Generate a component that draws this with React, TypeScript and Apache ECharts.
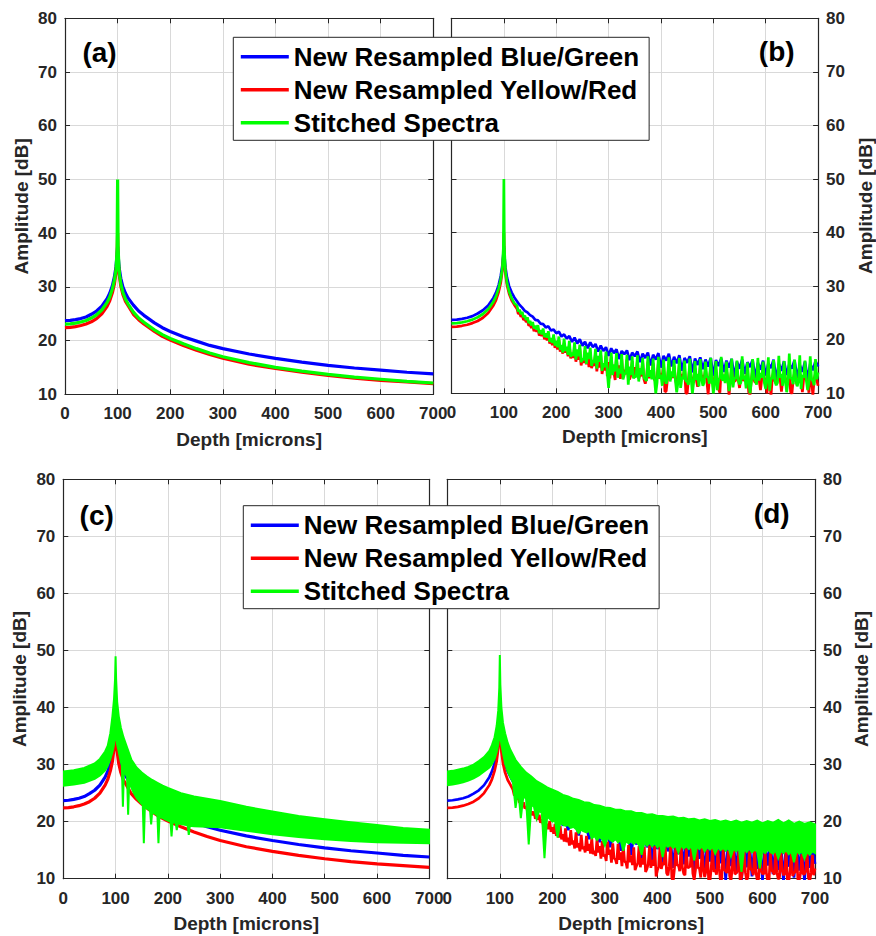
import React, { useEffect, useRef } from "react";
import * as echarts from "echarts";

const SERIES_NAMES = ["New Resampled Blue/Green", "New Resampled Yellow/Red", "Stitched Spectra"];
const SERIES_COLORS = ["#0000ff", "#ff0000", "#00ff00"];
const PANEL_LABELS = ["(a)", "(b)", "(c)", "(d)"];
const X_LABEL = "Depth [microns]";
const Y_LABEL = "Amplitude [dB]";
const X_MIN = 0;
const X_MAX = 700;
const X_STEP = 100;
const Y_MIN = 10;
const Y_MAX = 80;
const Y_STEP = 10;

// Smooth spectra around the peak (depth in microns, amplitude in dB)
const nearDepth = [0, 10, 20, 30, 40, 50, 60, 70, 80, 85, 90, 94, 97, 99, 100, 101, 103, 106, 110, 115, 120];
const blueNear = [23.7, 23.75, 23.9, 24.1, 24.4, 24.9, 25.5, 26.4, 27.8, 28.8, 30.2, 31.9, 33.8, 36.0, 37.5, 35.8, 33.5, 31.6, 30.0, 28.8, 27.9];
const redNear = [22.4, 22.45, 22.6, 22.8, 23.1, 23.5, 24.1, 25.0, 26.4, 27.4, 28.9, 30.6, 32.8, 35.5, 40.0, 35.0, 32.3, 30.2, 28.6, 27.3, 26.5];
const greenNear = [23.05, 23.1, 23.25, 23.45, 23.75, 24.2, 24.8, 25.7, 27.1, 28.1, 29.6, 31.3, 33.3, 37.0, 50.0, 37.0, 32.8, 30.6, 29.0, 27.7, 26.8];

// Smooth spectra, far side of the peak
const farDepth = [130, 140, 150, 160, 170, 185, 200, 225, 250, 275, 300, 350, 400, 450, 500, 550, 600, 650, 700];
const blueFar = [26.6, 25.5, 24.7, 24.0, 23.3, 22.4, 21.7, 20.7, 19.9, 19.1, 18.5, 17.5, 16.7, 16.0, 15.4, 14.9, 14.5, 14.1, 13.8];
const redFar = [24.9, 23.9, 23.1, 22.4, 21.7, 20.8, 20.1, 19.1, 18.2, 17.4, 16.7, 15.6, 14.8, 14.1, 13.5, 13.0, 12.6, 12.3, 12.0];
const greenFar = [25.3, 24.2, 23.4, 22.7, 22.0, 21.1, 20.4, 19.4, 18.5, 17.7, 17.0, 15.9, 15.0, 14.3, 13.7, 13.2, 12.8, 12.4, 12.1];

// Noisy tails: samples at 125, 130, ... 700 and in-between samples at 127.5, 132.5, ... 697.5
const tailDepth = Array.from({ length: 116 }, (_, i) => 125 + 5 * i);
const tailMidDepth = Array.from({ length: 115 }, (_, i) => 127.5 + 5 * i);

const blueTailB = [
  27.2, 26.5, 26.0, 25.4, 25.1, 24.6, 24.3, 23.7, 23.6, 23.0,
  22.9, 22.3, 22.5, 21.7, 21.9, 21.2, 21.5, 20.6, 21.0, 20.2,
  20.7, 19.6, 20.4, 19.3, 20.1, 18.9, 19.6, 18.4, 19.5, 18.6,
  19.2, 17.8, 18.9, 17.9, 18.6, 17.0, 18.4, 17.5, 18.2, 16.4,
  17.9, 17.3, 18.0, 16.2, 17.6, 16.9, 17.8, 15.8, 17.4, 16.6,
  17.6, 15.2, 17.2, 16.3, 17.5, 14.8, 17.0, 16.1, 17.4, 15.0,
  16.8, 15.6, 17.1, 14.2, 16.6, 15.7, 16.9, 13.9, 16.5, 15.3,
  16.7, 14.5, 16.3, 15.0, 16.6, 13.2, 16.2, 15.1, 16.5, 14.0,
  16.1, 14.8, 16.4, 13.0, 15.9, 14.6, 16.3, 13.6, 15.8, 14.9,
  16.2, 12.8, 15.7, 14.4, 16.1, 13.3, 15.6, 14.7, 16.3, 12.5,
  15.5, 14.2, 16.0, 13.4, 15.4, 14.6, 16.2, 12.9, 15.3, 14.0,
  15.9, 12.6, 15.5, 14.3, 16.0, 15.0,
];
const redTailB = [
  25.8, 25.0, 24.6, 23.9, 23.6, 22.9, 22.7, 22.0, 22.1, 21.2,
  21.4, 20.6, 20.9, 19.9, 20.4, 19.3, 19.9, 18.6, 19.4, 18.2,
  19.0, 17.4, 18.6, 17.2, 18.3, 16.4, 18.0, 16.9, 17.7, 15.6,
  17.5, 16.3, 17.2, 15.0, 17.0, 15.8, 16.8, 13.9, 16.6, 15.2,
  16.5, 14.4, 16.3, 12.6, 16.0, 14.9, 16.2, 13.5, 15.8, 11.8,
  15.9, 14.3, 15.6, 12.4, 15.7, 13.8, 15.3, 10.4, 15.4, 13.2,
  15.1, 11.5, 15.2, 13.6, 14.9, 10.0, 15.0, 12.8, 14.7, 11.2,
  14.9, 13.4, 14.5, 9.8, 14.8, 12.5, 14.4, 10.8, 14.6, 13.1,
  14.3, 9.6, 14.5, 12.2, 14.2, 11.0, 14.4, 12.9, 14.1, 9.7,
  14.3, 12.0, 14.0, 10.6, 14.2, 12.7, 13.9, 9.5, 14.1, 11.8,
  13.8, 10.3, 14.0, 12.4, 13.7, 9.9, 13.9, 11.5, 13.6, 10.2,
  13.8, 12.1, 13.5, 9.6, 13.7, 11.4,
];
const redMidB = [
  24.8, 24.3, 23.7, 23.3, 22.6, 22.2, 21.6, 21.5, 20.8, 20.7,
  20.1, 19.9, 19.3, 19.0, 18.5, 18.2, 17.8, 17.4, 17.6, 16.9,
  16.5, 16.6, 15.9, 16.3, 15.2, 15.7, 15.4, 14.9, 14.7, 15.1,
  14.1, 14.8, 13.6, 14.3, 13.2, 12.8, 13.9, 12.5, 13.4, 12.7,
  13.0, 13.6, 12.8, 13.4, 12.9, 13.3, 12.7, 13.2, 12.6, 13.1,
  12.8, 13.0, 12.5, 12.9, 12.7, 13.1, 10.3, 12.8, 12.6, 12.9,
  12.7, 12.9, 12.4, 12.8, 10.0, 12.7, 12.6, 12.9, 12.5, 12.8,
  12.6, 12.8, 12.4, 12.7, 12.9, 12.5, 12.6, 10.1, 12.8, 12.4,
  12.7, 12.5, 12.8, 12.4, 12.6, 12.9, 12.3, 12.7, 10.2, 12.6,
  12.5, 12.8, 12.4, 12.7, 12.6, 10.0, 12.5, 12.8, 12.3, 12.6,
  12.7, 12.4, 12.8, 12.5, 10.3, 12.6, 12.4, 12.7, 12.5, 12.8,
  12.6, 10.1, 12.5, 12.7, 12.4,
];
const greenTailB = [
  26.4, 25.6, 25.2, 24.5, 24.2, 23.5, 23.3, 22.6, 22.7, 21.8,
  22.1, 21.2, 21.6, 20.3, 21.0, 19.8, 20.6, 19.0, 20.2, 18.7,
  19.8, 17.6, 19.5, 18.2, 19.1, 16.5, 18.8, 17.6, 18.5, 16.2,
  18.3, 17.0, 18.0, 15.6, 17.8, 11.0, 17.6, 15.4, 17.5, 14.6,
  17.3, 13.5, 17.2, 15.0, 16.9, 13.2, 17.1, 14.7, 16.6, 12.6,
  16.9, 14.3, 16.5, 10.0, 16.8, 13.4, 16.3, 11.8, 16.7, 14.1,
  16.2, 10.2, 16.6, 13.0, 16.1, 12.2, 16.5, 10.0, 16.0, 13.6,
  16.4, 11.4, 15.9, 13.1, 16.6, 10.0, 16.0, 12.6, 16.8, 13.5,
  15.9, 10.4, 16.5, 12.9, 16.1, 11.7, 16.9, 13.3, 15.8, 10.0,
  16.4, 12.4, 16.6, 13.8, 15.9, 10.8, 16.7, 12.9, 16.2, 11.5,
  17.0, 13.6, 16.0, 10.2, 17.4, 12.8, 16.3, 11.3, 17.1, 13.4,
  16.1, 10.6, 16.9, 12.3, 16.4, 13.9,
];
const greenMidB = [
  25.3, 24.8, 24.2, 23.7, 23.1, 22.7, 22.1, 21.9, 21.2, 21.0,
  20.5, 20.4, 19.6, 19.4, 18.9, 18.6, 18.1, 17.6, 17.9, 17.2,
  16.8, 17.0, 16.3, 16.9, 15.8, 16.2, 15.5, 16.4, 15.1, 15.7,
  14.6, 15.9, 14.2, 14.9, 13.8, 14.5, 13.4, 14.1, 12.9, 13.7,
  12.6, 13.9, 11.6, 13.4, 12.8, 13.0, 12.2, 13.5, 12.9, 12.3,
  13.1, 12.6, 12.9, 12.0, 12.8, 11.4, 12.7, 12.9, 12.2, 13.0,
  12.4, 12.1, 11.0, 12.6, 12.3, 11.6, 12.8, 12.2, 12.5, 11.3,
  12.7, 12.0, 12.9, 11.8, 12.4, 12.1, 10.6, 12.8, 12.3, 11.9,
  12.6, 12.2, 11.1, 12.7, 12.4, 12.0, 12.6, 10.9, 12.5, 12.1,
  12.8, 11.6, 12.4, 12.9, 11.9, 12.6, 10.5, 12.7, 12.3, 12.0,
  12.9, 11.4, 12.5, 12.2, 12.8, 11.7, 12.6, 12.3, 10.8, 12.9,
  12.4, 12.0, 12.7, 11.5, 12.6,
];
const blueTailD = [
  27.0, 26.2, 25.9, 25.1, 24.9, 24.2, 24.1, 23.4, 23.3, 22.6,
  22.7, 21.9, 22.2, 21.1, 21.7, 20.4, 21.2, 19.9, 20.8, 19.3,
  20.4, 18.5, 20.1, 19.0, 19.7, 17.6, 19.4, 18.3, 19.2, 16.9,
  19.0, 17.8, 18.7, 16.4, 18.6, 17.3, 18.3, 15.5, 18.2, 16.8,
  17.9, 14.9, 18.1, 16.4, 17.6, 14.2, 17.8, 16.0, 17.3, 13.6,
  17.6, 15.5, 17.0, 13.0, 17.4, 15.2, 16.8, 12.4, 17.2, 14.8,
  16.6, 11.9, 17.0, 14.3, 16.4, 12.5, 16.9, 13.9, 16.2, 11.2,
  17.2, 13.5, 16.8, 10.5, 17.3, 13.0, 16.6, 11.6, 17.0, 12.7,
  16.6, 9.8, 17.1, 12.2, 16.4, 10.9, 17.0, 9.6, 16.3, 12.0,
  16.9, 10.4, 16.2, 11.7, 16.8, 9.7, 16.0, 12.3, 16.7, 10.8,
  15.9, 11.5, 16.6, 9.5, 15.8, 12.1, 16.5, 10.2, 15.7, 11.4,
  16.3, 9.6, 15.6, 11.9, 16.2, 12.6,
];
const redTailD = [
  25.6, 24.8, 24.4, 23.6, 23.4, 22.7, 22.5, 21.8, 21.8, 21.0,
  21.2, 20.4, 20.6, 19.6, 20.1, 19.0, 19.6, 18.4, 19.2, 17.8,
  18.8, 17.2, 18.5, 16.7, 18.1, 16.2, 17.7, 15.6, 17.5, 16.1,
  17.1, 14.9, 17.0, 15.7, 16.6, 14.2, 16.5, 15.1, 16.2, 13.4,
  16.1, 14.6, 15.8, 12.9, 15.9, 14.1, 15.5, 12.2, 15.7, 13.6,
  15.6, 11.7, 15.8, 13.3, 15.7, 11.5, 16.0, 12.8, 15.6, 10.6,
  15.8, 9.6, 15.5, 12.4, 15.7, 10.9, 15.3, 12.0, 15.6, 9.8,
  15.2, 11.8, 15.5, 10.3, 15.1, 9.5, 15.4, 11.6, 15.0, 9.7,
  15.3, 11.3, 14.9, 9.6, 15.2, 11.0, 14.8, 10.1, 15.1, 9.7,
  14.8, 11.5, 15.1, 9.8, 14.7, 10.9, 15.0, 9.6, 14.6, 11.2,
  14.9, 9.9, 14.5, 10.6, 14.8, 9.5, 14.4, 11.0, 14.7, 9.7,
  14.3, 10.8, 14.6, 9.6, 14.2, 11.8,
];
const redMidD = [
  24.6, 23.9, 23.3, 22.9, 22.3, 21.9, 21.4, 21.1, 20.5, 20.3,
  19.8, 19.5, 19.0, 18.7, 18.2, 17.9, 17.5, 17.2, 16.9, 16.5,
  16.4, 15.8, 16.0, 15.3, 15.5, 14.8, 15.2, 14.6, 14.9, 14.4,
  14.3, 14.0, 14.6, 13.5, 13.9, 13.1, 14.2, 12.8, 13.6, 12.6,
  13.3, 12.2, 13.0, 11.8, 12.9, 12.4, 11.5, 12.7, 12.0, 12.5,
  11.2, 12.6, 11.9, 12.3, 10.4, 12.1, 11.7, 12.4, 11.0, 12.2,
  10.1, 11.8, 12.3, 11.3, 12.0, 10.6, 11.9, 12.2, 10.9, 11.6,
  11.9, 10.2, 11.7, 11.4, 9.8, 12.0, 11.2, 10.7, 11.8, 10.0,
  11.6, 11.0, 10.5, 11.9, 10.8, 11.3, 9.7, 11.5, 11.1, 10.4,
  11.7, 10.6, 11.2, 9.9, 11.4, 10.8, 11.0, 9.6, 11.5, 10.7,
  11.1, 10.3, 11.6, 10.9, 9.8, 11.3, 10.5, 11.2, 9.6, 11.0,
  10.8, 11.4, 10.2, 11.1, 10.6,
];

// Stitched spectrum of panel (c): filled band between upper and lower envelopes
const bandCUpperDepth = [0, 20, 40, 60, 70, 80, 85, 90, 94, 97, 99, 100, 101, 103, 106, 110, 115, 120, 130, 140, 150, 160, 170, 180, 190, 200, 225, 250, 275, 300, 350, 400, 450, 500, 550, 600, 650, 700];
const bandCUpper = [28.8, 29.0, 29.4, 30.2, 31.0, 32.3, 33.3, 35.5, 38.5, 41.5, 45.0, 49.0, 45.0, 41.0, 38.5, 36.5, 34.8, 33.5, 30.9, 29.5, 28.6, 27.9, 27.3, 26.8, 26.3, 25.9, 25.0, 24.4, 24.0, 23.6, 22.6, 21.8, 21.0, 20.4, 19.9, 19.4, 18.9, 18.6];
const bandCLowerDepth = [0, 20, 40, 60, 70, 80, 85, 90, 94, 97, 99, 100, 101, 103, 106, 110, 112, 114, 116, 120, 122, 124, 126, 130, 135, 140, 145, 150, 152, 154, 156, 160, 166, 168, 170, 175, 180, 182, 184, 190, 200, 205, 207, 209, 215, 217, 219, 225, 235, 238, 240, 242, 250, 275, 300, 350, 400, 450, 500, 550, 600, 650, 700];
const bandCLower = [26.3, 26.5, 26.8, 27.5, 28.1, 29.0, 29.8, 31.0, 32.2, 33.5, 35.0, 36.0, 35.0, 33.5, 32.3, 30.5, 29.9, 22.6, 29.3, 28.2, 27.8, 21.2, 27.1, 26.0, 25.0, 24.2, 23.6, 23.1, 22.9, 16.2, 22.6, 22.3, 21.9, 19.5, 21.7, 21.4, 21.1, 16.2, 20.9, 20.6, 20.2, 20.0, 17.4, 19.9, 19.8, 18.5, 19.7, 19.6, 19.4, 19.3, 17.7, 19.3, 19.2, 19.1, 19.0, 18.4, 17.8, 17.3, 16.9, 16.6, 16.4, 16.3, 16.2];

// Stitched spectrum of panel (d): noisy band
const bandDUpperNear = [28.8, 28.9, 29.1, 29.3, 29.6, 30.0, 30.6, 31.3, 32.4, 33.4, 34.8, 36.8, 39.5, 43.5, 49.2, 44.0, 40.0, 37.3, 35.5, 33.8, 32.6];
const bandDUpperFarDepth = Array.from({ length: 58 }, (_, i) => 130 + 10 * i);
const bandDUpperFar = [
  30.8, 29.6, 28.6, 27.9, 27.1, 26.6, 26.0, 25.6, 25.2, 24.7,
  24.4, 24.0, 23.8, 23.4, 23.3, 22.9, 22.8, 22.5, 22.4, 22.1,
  22.1, 21.8, 21.8, 21.5, 21.5, 21.2, 21.3, 21.0, 21.0, 20.8,
  20.9, 20.6, 20.7, 20.4, 20.5, 20.2, 20.4, 20.1, 20.3, 20.0,
  20.2, 19.9, 20.2, 19.8, 20.1, 19.8, 20.2, 19.7, 20.1, 19.8,
  20.3, 19.7, 20.2, 19.6, 20.0, 19.6, 19.9, 19.5,
];
const bandDLowerNear = [26.4, 26.5, 26.7, 26.9, 27.2, 27.6, 28.1, 28.8, 29.5, 30.1, 31.0, 32.2, 33.5, 35.0, 36.0, 35.0, 33.5, 32.0, 30.2, 28.8, 27.8];
const bandDLowerTail = [
  26.9, 22.4, 25.7, 20.6, 24.6, 24.0, 16.0, 23.0, 22.6, 20.5,
  21.9, 21.5, 13.6, 20.9, 20.5, 20.0, 20.2, 17.2, 19.8, 19.5,
  19.3, 19.4, 18.9, 19.1, 18.7, 18.0, 18.6, 18.3, 18.1, 18.4,
  17.1, 17.5, 16.8, 17.3, 16.9, 15.8, 17.2, 16.8, 16.5, 17.0,
  16.4, 16.8, 14.9, 16.7, 16.2, 16.6, 16.1, 16.5, 15.9, 14.2,
  16.4, 15.8, 16.3, 15.7, 16.2, 15.5, 16.1, 13.8, 16.0, 15.6,
  15.9, 15.4, 15.8, 14.6, 15.9, 15.3, 15.7, 15.2, 15.8, 13.2,
  15.6, 15.2, 15.7, 14.8, 15.5, 15.1, 15.6, 14.4, 15.5, 15.0,
  15.4, 14.9, 15.5, 13.9, 15.3, 14.8, 15.4, 11.2, 15.2, 14.7,
  15.3, 14.6, 15.1, 14.8, 11.8, 15.0, 14.5, 15.1, 14.7, 14.4,
  15.0, 13.6, 14.9, 14.5, 15.0, 14.3, 14.8, 12.9, 14.9, 14.4,
  14.8, 13.5, 14.7, 14.2, 14.8, 14.5,
];

const FONT = "'Liberation Sans', Arial, Helvetica, sans-serif";
const INK = "#262626";

const zip = (xs: number[], ys: number[]) => xs.map((x, i) => [x, ys[i]]);
const byDepth = (a: number[], b: number[]) => a[0] - b[0];

function buildOption() {
  const grids = [
    { left: 65, top: 18.3, width: 368.3, height: 376 },
    { left: 451.5, top: 18.3, width: 367.8, height: 375 },
    { left: 63.3, top: 479.3, width: 366, height: 399.4 },
    { left: 447.3, top: 479.3, width: 367.7, height: 399.4 },
  ];
  const yRight = [false, true, false, true];
  const yNameGap = [33.8, 37.9, 34.8, 37.2];
  const xNameGap = [35.5, 34, 35, 35];
  const xLabelMargin = [10.5, 10.5, 11.5, 11.5];

  const tickStyle = { show: true, inside: true, length: 5, lineStyle: { color: INK, width: 1 } };
  const boxLine = { show: true, onZero: false, lineStyle: { color: INK, width: 1.2 } };
  const labelStyle = { fontFamily: FONT, fontWeight: "bold" as const, fontSize: 17, color: INK };
  const nameStyle = { fontFamily: FONT, fontWeight: "bold" as const, fontSize: 19, color: INK };
  const gridLine = { show: true, lineStyle: { color: "#d9d9d9", width: 1 } };

  const xAxis: any[] = [];
  const yAxis: any[] = [];
  grids.forEach((_, i) => {
    xAxis.push({
      type: "value", gridIndex: i, min: X_MIN, max: X_MAX, interval: X_STEP, position: "bottom",
      name: X_LABEL, nameLocation: "middle", nameGap: xNameGap[i], nameTextStyle: nameStyle,
      axisLine: boxLine, axisTick: tickStyle,
      axisLabel: { ...labelStyle, margin: xLabelMargin[i] },
      splitLine: gridLine,
    });
    yAxis.push({
      type: "value", gridIndex: i, min: Y_MIN, max: Y_MAX, interval: Y_STEP,
      position: yRight[i] ? "right" : "left",
      name: Y_LABEL, nameLocation: "middle", nameGap: yNameGap[i], nameTextStyle: nameStyle,
      axisLine: boxLine, axisTick: tickStyle,
      axisLabel: { ...labelStyle, margin: 8 },
      splitLine: gridLine,
    });
  });
  grids.forEach((_, i) => {
    xAxis.push({
      type: "value", gridIndex: i, min: X_MIN, max: X_MAX, interval: X_STEP, position: "top",
      axisLine: boxLine, axisTick: tickStyle, axisLabel: { show: false }, splitLine: { show: false },
    });
    yAxis.push({
      type: "value", gridIndex: i, min: Y_MIN, max: Y_MAX, interval: Y_STEP,
      position: yRight[i] ? "left" : "right",
      axisLine: boxLine, axisTick: tickStyle, axisLabel: { show: false }, splitLine: { show: false },
    });
  });

  const line = (k: number, panel: number, data: number[][], width: number) => ({
    type: "line",
    name: SERIES_NAMES[k],
    xAxisIndex: panel,
    yAxisIndex: panel,
    data,
    showSymbol: false,
    symbol: "none",
    clip: true,
    silent: true,
    lineStyle: { color: SERIES_COLORS[k], width },
    itemStyle: { color: SERIES_COLORS[k] },
    z: 2 + k,
  });

  const band = (panel: number, data: number[][]) => ({
    type: "custom",
    name: SERIES_NAMES[2],
    xAxisIndex: panel,
    yAxisIndex: panel,
    data,
    encode: { x: 0, y: 1 },
    clip: true,
    silent: true,
    itemStyle: { color: SERIES_COLORS[2] },
    z: 4,
    renderItem: (params: any, api: any) => {
      if (params.dataIndex !== 0) return null;
      const pts: number[][] = [];
      for (let i = 0; i < params.dataInsideLength; i++) {
        pts.push(api.coord([api.value(0, i), api.value(1, i)]));
      }
      return {
        type: "polygon",
        shape: { points: pts },
        style: { fill: SERIES_COLORS[2], stroke: SERIES_COLORS[2], lineWidth: 2 },
      };
    },
  });

  const smoothDepth = nearDepth.concat(farDepth);
  const smooth = (near: number[], far: number[]) => zip(smoothDepth, near.concat(far));
  const noisy = (near: number[], tail: number[], mid?: number[]) => {
    const pts = zip(nearDepth, near).concat(zip(tailDepth, tail));
    return (mid ? pts.concat(zip(tailMidDepth, mid)) : pts).sort(byDepth);
  };

  const bandC = zip(bandCUpperDepth, bandCUpper).concat(zip(bandCLowerDepth, bandCLower).reverse());
  const bandD = zip(nearDepth.concat(bandDUpperFarDepth), bandDUpperNear.concat(bandDUpperFar)).concat(
    zip(nearDepth.concat(tailDepth), bandDLowerNear.concat(bandDLowerTail)).reverse()
  );

  const W = 3.2;
  const WN = 2.7;
  const series: any[] = [
    line(0, 0, smooth(blueNear, blueFar), W),
    line(1, 0, smooth(redNear, redFar), W),
    line(2, 0, smooth(greenNear, greenFar), W),
    line(0, 1, noisy(blueNear, blueTailB), WN),
    line(1, 1, noisy(redNear, redTailB, redMidB), WN),
    line(2, 1, noisy(greenNear, greenTailB, greenMidB), WN),
    line(0, 2, smooth(blueNear, blueFar), W),
    line(1, 2, smooth(redNear, redFar), W),
    band(2, bandC),
    line(0, 3, noisy(blueNear, blueTailD), WN),
    line(1, 3, noisy(redNear, redTailD, redMidD), WN),
    band(3, bandD),
  ];

  const legendBase = {
    data: SERIES_NAMES,
    orient: "vertical",
    icon: "rect",
    itemWidth: 48,
    itemHeight: 3.5,
    itemGap: 0,
    selectedMode: false,
    backgroundColor: "#ffffff",
    borderColor: INK,
    borderWidth: 1,
    borderRadius: 0,
    padding: [3, 10, 1, 7.5],
    textStyle: { fontFamily: FONT, fontWeight: "bold", fontSize: 26, color: "#000000", lineHeight: 33 },
  };

  const legend = [
    { ...legendBase, left: 233.3, top: 37.3 },
    { ...legendBase, left: 243.3, top: 505.7 },
  ];

  const labelPos = [
    [99.5, 52.3],
    [776.7, 51.7],
    [96.7, 515],
    [771.7, 513.5],
  ];
  const graphic = PANEL_LABELS.map((t, i) => ({
    type: "text",
    x: labelPos[i][0],
    y: labelPos[i][1],
    z: 10,
    style: {
      text: t,
      fontFamily: FONT,
      fontWeight: "bold",
      fontSize: 28,
      fill: "#000000",
      align: "center",
      verticalAlign: "middle",
    },
  }));

  return {
    animation: false,
    backgroundColor: "#ffffff",
    grid: grids.map((g) => ({ ...g, show: false, containLabel: false })),
    xAxis,
    yAxis,
    legend,
    series,
    graphic,
  };
}

export default function App() {
  const ref = useRef<HTMLDivElement>(null);
  useEffect(() => {
    if (!ref.current) return;
    const chart = echarts.init(ref.current, undefined, { renderer: "svg" });
    chart.setOption(buildOption() as any);
    return () => chart.dispose();
  }, []);
  return (
    <div
      ref={ref}
      style={{ position: "absolute", left: 0, top: 0, width: 876, height: 936, background: "#ffffff" }}
    />
  );
}
